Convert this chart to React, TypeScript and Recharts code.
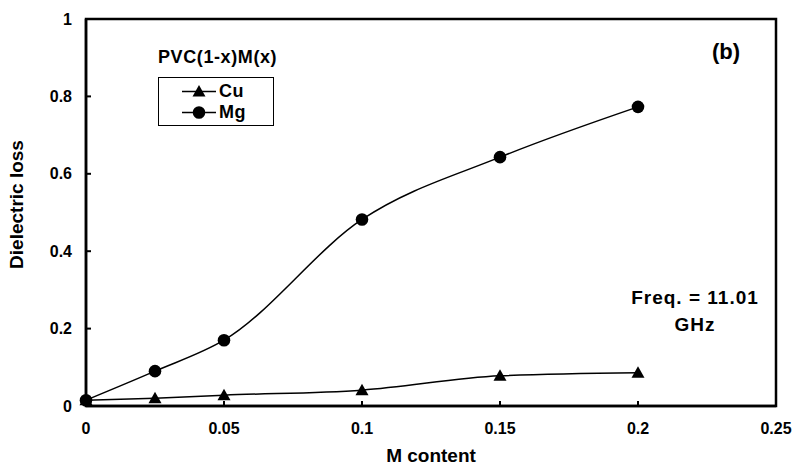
import { LineChart, Line, XAxis, YAxis, ReferenceArea } from "recharts";

// M content (x) and dielectric loss for each filler
const mContent = [0, 0.025, 0.05, 0.1, 0.15, 0.2];
const cuLoss = [0.015, 0.02, 0.028, 0.041, 0.078, 0.086];
const mgLoss = [0.015, 0.09, 0.17, 0.482, 0.643, 0.773];
const xTicks = [0, 0.05, 0.1, 0.15, 0.2, 0.25];
const yTicks = [0, 0.2, 0.4, 0.6, 0.8, 1];

const data = mContent.map((x, i) => ({ x, cu: cuLoss[i], mg: mgLoss[i] }));

const FONT = '"Liberation Sans", Arial, Helvetica, sans-serif';

function Triangle({ cx, cy }: { cx?: number; cy?: number }) {
  if (cx == null || cy == null) return null;
  return (
    <polygon
      points={`${cx},${cy - 6.5} ${cx - 6.5},${cy + 5} ${cx + 6.5},${cy + 5}`}
      fill="#000"
    />
  );
}

function Circle({ cx, cy }: { cx?: number; cy?: number }) {
  if (cx == null || cy == null) return null;
  return <circle cx={cx} cy={cy} r={6.3} fill="#000" />;
}

const SERIES = [
  { key: "cu", name: "Cu", Dot: Triangle },
  { key: "mg", name: "Mg", Dot: Circle },
];

export default function App() {
  return (
    <div style={{ position: "relative", width: 793, height: 465, fontFamily: FONT, color: "#000" }}>
      <style>{`body { margin: 0; }`}</style>
      <LineChart
        width={793}
        height={465}
        data={data}
        margin={{ top: 19, right: 17, left: 0, bottom: 0 }}
      >
        <XAxis
          dataKey="x"
          type="number"
          domain={[0, 0.25]}
          ticks={xTicks}
          interval={0}
          height={59}
          tickSize={-5}
          tickMargin={22}
          axisLine={{ stroke: "#000", strokeWidth: 2.5 }}
          tickLine={{ stroke: "#000", strokeWidth: 2 }}
          tick={{ fill: "#000", fontSize: 16, fontWeight: "bold" }}
          label={{
            value: "M content",
            content: ({ viewBox }: any) => (
              <text
                x={viewBox.x + viewBox.width / 2}
                y={viewBox.y + viewBox.height - 3}
                textAnchor="middle"
                fontSize={19}
                fontWeight="bold"
                fill="#000"
              >
                M content
              </text>
            ),
          }}
        />
        <YAxis
          type="number"
          domain={[0, 1]}
          ticks={yTicks}
          interval={0}
          width={86}
          tickSize={-5}
          tickMargin={19}
          axisLine={{ stroke: "#000", strokeWidth: 2.5 }}
          tickLine={{ stroke: "#000", strokeWidth: 2 }}
          tick={{ fill: "#000", fontSize: 16, fontWeight: "bold" }}
          label={{
            value: "Dielectric loss",
            content: ({ viewBox }: any) => {
              const x = viewBox.x + 16;
              const y = viewBox.y + viewBox.height / 2 - 8;
              return (
                <text
                  x={x}
                  y={y}
                  transform={`rotate(-90, ${x}, ${y})`}
                  textAnchor="middle"
                  dominantBaseline="central"
                  fontSize={19}
                  fontWeight="bold"
                  fill="#000"
                >
                  Dielectric loss
                </text>
              );
            },
          }}
        />
        <ReferenceArea
          x1={0}
          x2={0.25}
          y1={0}
          y2={1}
          fill="none"
          stroke="#000"
          strokeWidth={2.5}
          ifOverflow="visible"
        />
        {SERIES.map((s) => (
          <Line
            key={s.key}
            dataKey={s.key}
            name={s.name}
            type="monotone"
            stroke="#000"
            strokeWidth={1.5}
            dot={(p: any) => <s.Dot key={`${s.key}-${p.index}`} cx={p.cx} cy={p.cy} />}
            activeDot={false}
            isAnimationActive={false}
          />
        ))}
      </LineChart>

      <div
        style={{
          position: "absolute",
          left: 158,
          top: 47,
          fontSize: 18,
          fontWeight: "bold",
          lineHeight: "21px",
          letterSpacing: 0.6,
        }}
      >
        PVC(1-x)M(x)
      </div>
      <div
        style={{
          position: "absolute",
          left: 158,
          top: 77,
          width: 114,
          height: 44,
          border: "1px solid #000",
          paddingTop: 3,
          boxSizing: "content-box",
        }}
      >
        {SERIES.map((s) => (
          <div key={s.key} style={{ display: "flex", alignItems: "center", height: 21, paddingLeft: 23 }}>
            <svg width={37} height={21}>
              <line x1={0} y1={10.5} x2={34} y2={10.5} stroke="#000" strokeWidth={1.5} />
              <s.Dot cx={17} cy={10.5} />
            </svg>
            <span style={{ fontSize: 18, fontWeight: "bold", letterSpacing: 0.5 }}>{s.name}</span>
          </div>
        ))}
      </div>

      <div
        style={{
          position: "absolute",
          left: 686,
          top: 39,
          width: 80,
          textAlign: "center",
          fontSize: 22,
          fontWeight: "bold",
          lineHeight: "26px",
        }}
      >
        (b)
      </div>
      <div
        style={{
          position: "absolute",
          left: 595,
          top: 284,
          width: 200,
          textAlign: "center",
          fontSize: 19,
          fontWeight: "bold",
          lineHeight: "27px",
          letterSpacing: 1,
        }}
      >
        Freq. = 11.01
        <br />
        GHz
      </div>
    </div>
  );
}
